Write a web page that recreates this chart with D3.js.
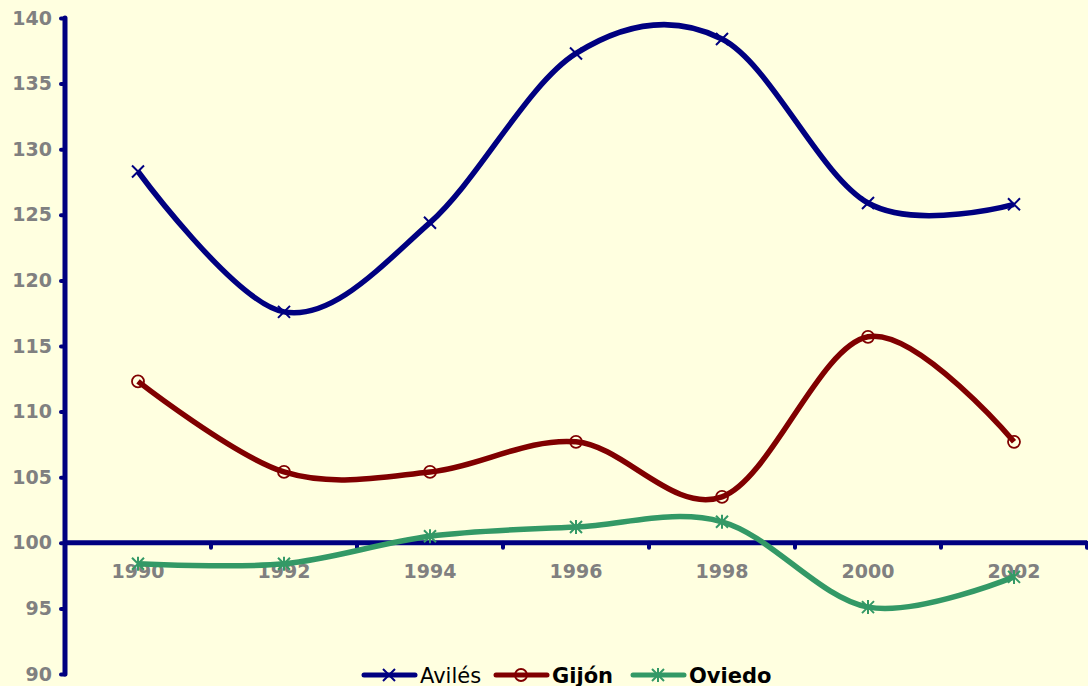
<!DOCTYPE html>
<html>
<head>
<meta charset="utf-8">
<script src="https://cdn.jsdelivr.net/npm/d3@7"></script>
<style>
  html, body { margin: 0; padding: 0; background: #ffffe0; }
  svg { display: block; }
</style>
</head>
<body>
<div id="chart"></div>
<script>
// chart data
let years = ["1990", "1992", "1994", "1996", "1998", "2000", "2002"];
let aviles = [128.3, 117.6, 124.4, 137.3, 138.4, 125.9, 125.8];
let gijon  = [112.3, 105.4, 105.4, 107.7, 103.5, 115.7, 107.7];
let oviedo = [98.4, 98.4, 100.5, 101.2, 101.6, 95.1, 97.4];
let yTicks = [90, 95, 100, 105, 110, 115, 120, 125, 130, 135, 140];

let W = 1088, H = 686;
let mLeft = 65, mRight = 1087, mTop = 18, mBottom = 674;
let FONT = "DejaVu Sans, Verdana, sans-serif";

let series = [
    { name: "Avilés", values: aviles, color: "#000080", marker: "x", bold: false },
    { name: "Gijón",  values: gijon,  color: "#800000", marker: "o", bold: true },
    { name: "Oviedo", values: oviedo, color: "#339966", marker: "*", bold: true }
];

var svg = d3.select("#chart").append("svg")
    .attr("width", W)
    .attr("height", H);

svg.append("rect").attr("width", W).attr("height", H).attr("fill", "#ffffe0");

var x = d3.scaleBand().domain(years).range([mLeft, mRight]).padding(0);
var y = d3.scaleLinear().domain([90, 140]).range([mBottom, mTop]);
let cx = d => x(d) + x.bandwidth() / 2;

// y axis
var yAxis = svg.append("g")
    .attr("transform", `translate(${mLeft},0)`)
    .call(d3.axisLeft(y).tickValues(yTicks).tickSize(6).tickPadding(7));
yAxis.select(".domain").remove();
yAxis.selectAll(".tick line").attr("stroke", "#000080").attr("stroke-width", 4).attr("stroke-linecap", "round").attr("x2", -4);
yAxis.selectAll(".tick text")
    .attr("fill", "#808080")
    .attr("font-family", FONT)
    .attr("font-weight", "bold")
    .attr("font-size", 19);
yAxis.append("line")
    .attr("y1", y(90)).attr("y2", y(140))
    .attr("stroke", "#000080").attr("stroke-width", 5).attr("stroke-linecap", "round");

// x axis crossing at 100
var xAxis = svg.append("g")
    .attr("transform", `translate(0,${y(100)})`);
xAxis.append("line")
    .attr("x1", mLeft).attr("x2", mRight)
    .attr("stroke", "#000080").attr("stroke-width", 5);
let boundaries = years.map(d => x(d) + x.bandwidth());
xAxis.selectAll(".xtick")
    .data(boundaries)
    .join("line")
    .attr("x1", d => d).attr("x2", d => d)
    .attr("y1", 0).attr("y2", 5)
    .attr("stroke", "#000080").attr("stroke-width", 4).attr("stroke-linecap", "round");
xAxis.selectAll(".xlab")
    .data(years)
    .join("text")
    .attr("x", d => cx(d))
    .attr("y", 35)
    .attr("text-anchor", "middle")
    .attr("fill", "#808080")
    .attr("font-family", FONT)
    .attr("font-weight", "bold")
    .attr("font-size", 19)
    .text(d => d);

// smoothed lines like excel
var line = d3.line()
    .x((d, i) => cx(years[i]))
    .y(d => y(d))
    .curve(d3.curveCardinal.tension(0));

function drawMarker(g, type, px, py, color) {
    if (type === "x") {
        g.append("path")
            .attr("d", `M${px-6},${py-6}L${px+6},${py+6}M${px-6},${py+6}L${px+6},${py-6}`)
            .attr("stroke", color).attr("stroke-width", 2).attr("fill", "none");
    } else if (type === "o") {
        g.append("circle")
            .attr("cx", px).attr("cy", py).attr("r", 6)
            .attr("stroke", color).attr("stroke-width", 1.8).attr("fill", "none");
    } else {
        g.append("path")
            .attr("d", `M${px-6},${py-6}L${px+6},${py+6}M${px-6},${py+6}L${px+6},${py-6}M${px},${py-7}L${px},${py+7}`)
            .attr("stroke", color).attr("stroke-width", 2).attr("fill", "none");
    }
}

series.forEach(s => {
    var g = svg.append("g");
    g.append("path")
        .datum(s.values)
        .attr("d", line)
        .attr("fill", "none")
        .attr("stroke", s.color)
        .attr("stroke-width", 5.5)
        .attr("stroke-linejoin", "round");
    s.values.forEach((v, i) => drawMarker(g, s.marker, cx(years[i]), y(v), s.color));
});

// legend
var legend = svg.append("g").attr("transform", "translate(0,675)");
let legX = [364, 496, 633];
series.forEach((s, i) => {
    var lg = legend.append("g").attr("transform", `translate(${legX[i]},0)`);
    lg.append("line")
        .attr("x1", 0).attr("x2", 51)
        .attr("stroke", s.color).attr("stroke-width", 5).attr("stroke-linecap", "round");
    drawMarker(lg, s.marker, 25, 0, s.color);
    lg.append("text")
        .attr("x", 56).attr("y", 7.5)
        .attr("font-family", FONT)
        .attr("font-size", 21)
        .attr("font-weight", s.bold ? "bold" : "normal")
        .attr("fill", "#000")
        .text(s.name);
});
</script>
</body>
</html>
